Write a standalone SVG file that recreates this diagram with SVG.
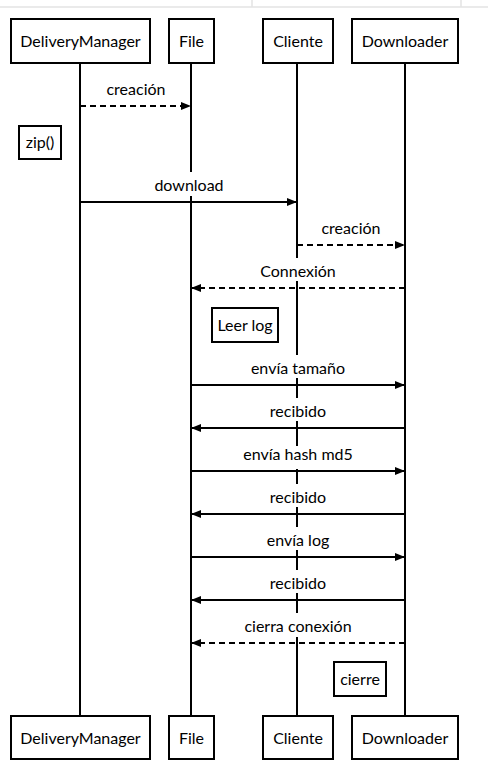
<svg xmlns="http://www.w3.org/2000/svg" width="488" height="778" viewBox="0 0 488 778">
<defs>
<style>
text{font-family:Lato,"Noto Sans",sans-serif;font-size:16px;fill:#000;text-anchor:middle}
.box{fill:#fff;stroke:#000;stroke-width:2}
.life{stroke:#000;stroke-width:2}
.msg{stroke:#000;stroke-width:2;fill:none}
.dash{stroke-dasharray:6 4}
.bg{fill:#fff}
.frame{stroke:#e3e3e3;stroke-width:1.5}
</style>
<marker id="ah" viewBox="0 0 10 10" refX="10" refY="5" markerWidth="10" markerHeight="10" markerUnits="userSpaceOnUse" orient="auto">
<path d="M0,1 L10,5 L0,9 z" fill="#000"/>
</marker>
</defs>
<rect width="488" height="778" fill="#fff"/>
<g id="frame">
<line class="frame" x1="0" y1="7" x2="488" y2="7"/>
<line class="frame" x1="252" y1="0" x2="252" y2="7"/>
<line class="frame" x1="461" y1="0" x2="461" y2="7"/>
</g>
<g id="lifelines">
<line class="life" x1="80" y1="63" x2="80" y2="716"/>
<line class="life" x1="191" y1="63" x2="191" y2="716"/>
<line class="life" x1="297" y1="63" x2="297" y2="716"/>
<line class="life" x1="405" y1="63" x2="405" y2="716"/>
</g>
<g id="connectors">
<rect class="bg" x="104" y="76" width="64" height="23"/>
<text x="136" y="95">creación</text>
<line class="msg dash" x1="80" y1="106" x2="191" y2="106" marker-end="url(#ah)"/>
<rect class="bg" x="152" y="172" width="74" height="24"/>
<text x="189" y="191">download</text>
<line class="msg" x1="80" y1="202" x2="297" y2="202" marker-end="url(#ah)"/>
<rect class="bg" x="319" y="215" width="64" height="23"/>
<text x="351" y="234">creación</text>
<line class="msg dash" x1="297" y1="245" x2="405" y2="245" marker-end="url(#ah)"/>
<rect class="bg" x="258" y="258" width="80" height="23"/>
<text x="298" y="277">Connexión</text>
<line class="msg dash" x1="405" y1="288" x2="191" y2="288" marker-end="url(#ah)"/>
<rect class="bg" x="248" y="355" width="100" height="23"/>
<text x="298" y="374">envía tamaño</text>
<line class="msg" x1="191" y1="385" x2="405" y2="385" marker-end="url(#ah)"/>
<rect class="bg" x="266" y="398" width="64" height="23"/>
<text x="298" y="417">recibido</text>
<line class="msg" x1="405" y1="428" x2="191" y2="428" marker-end="url(#ah)"/>
<rect class="bg" x="242" y="446" width="112" height="23"/>
<text x="298" y="460">envía hash md5</text>
<line class="msg" x1="191" y1="471" x2="405" y2="471" marker-end="url(#ah)"/>
<rect class="bg" x="266" y="484" width="64" height="23"/>
<text x="298" y="503">recibido</text>
<line class="msg" x1="405" y1="514" x2="191" y2="514" marker-end="url(#ah)"/>
<rect class="bg" x="264" y="527" width="68" height="23"/>
<text x="298" y="546">envía log</text>
<line class="msg" x1="191" y1="557" x2="405" y2="557" marker-end="url(#ah)"/>
<rect class="bg" x="266" y="570" width="64" height="23"/>
<text x="298" y="589">recibido</text>
<line class="msg" x1="405" y1="600" x2="191" y2="600" marker-end="url(#ah)"/>
<rect class="bg" x="242" y="613" width="112" height="24"/>
<text x="298" y="632">cierra conexión</text>
<line class="msg dash" x1="405" y1="643" x2="191" y2="643" marker-end="url(#ah)"/>
</g>
<g id="zip">
<rect class="box" x="19" y="126" width="42" height="33"/>
<text x="40" y="148">zip()</text>
</g>
<g id="leerlog">
<rect class="box" x="212" y="308" width="66" height="34"/>
<text x="245" y="331">Leer log</text>
</g>
<g id="cierre">
<rect class="box" x="334" y="662" width="52" height="34"/>
<text x="360" y="685">cierre</text>
</g>
<g id="DeliveryManager-top"><rect class="box" x="11" y="19" width="139" height="44"/><text x="80.5" y="47">DeliveryManager</text></g>
<g id="File-top"><rect class="box" x="169" y="19" width="45" height="44"/><text x="191.5" y="47">File</text></g>
<g id="Cliente-top"><rect class="box" x="263" y="19" width="70" height="44"/><text x="298" y="47">Cliente</text></g>
<g id="Downloader-top"><rect class="box" x="352" y="19" width="106" height="44"/><text x="405" y="47">Downloader</text></g>
<g id="DeliveryManager-bottom"><rect class="box" x="11" y="716" width="139" height="43"/><text x="80.5" y="744">DeliveryManager</text></g>
<g id="File-bottom"><rect class="box" x="169" y="716" width="45" height="43"/><text x="191.5" y="744">File</text></g>
<g id="Cliente-bottom"><rect class="box" x="263" y="716" width="70" height="43"/><text x="298" y="744">Cliente</text></g>
<g id="Downloader-bottom"><rect class="box" x="352" y="716" width="106" height="43"/><text x="405" y="744">Downloader</text></g>
</svg>
